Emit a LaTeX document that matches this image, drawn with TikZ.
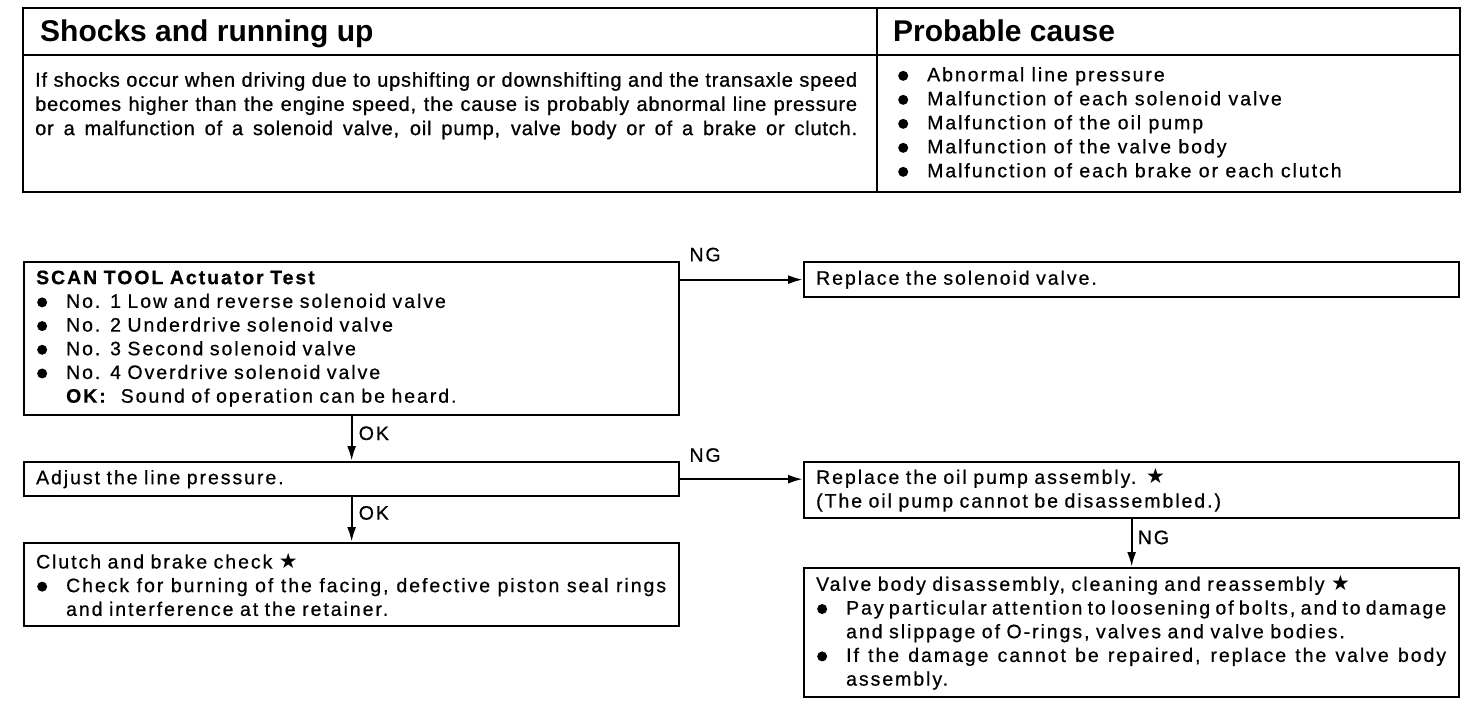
\documentclass[tikz,border=0pt]{standalone}
\usepackage{fontspec}
\setmainfont{Liberation Sans}
\newfontfamily\flowfont{Liberation Sans}[LetterSpace=10,FakeBold=0.6]
\newfontfamily\descfont{Liberation Sans}[LetterSpace=4,FakeBold=0.8]
\newfontfamily\symfont{DejaVu Sans}
\usetikzlibrary{arrows.meta}

\newcommand{\bul}{\makebox[30pt][l]{\hspace{1pt}\tikz[baseline=0pt]\fill (5pt,5.5pt) circle (5pt);}}
\newcommand{\strm}{{\symfont\fontsize{21}{21}\selectfont ★}}
\newcommand{\jline}[2]{\makebox[#1][s]{\spaceskip=0.3em plus 1fil minus 0.12em\relax #2}}

\tikzset{
  tbl/.style={line width=2.8pt},
  box/.style={draw, line width=2.3pt, anchor=north west, minimum width=655pt,
    text width=631pt, inner xsep=12pt, inner ysep=0pt, align=left,
    font=\flowfont\fontsize{19.5}{23.7}\selectfont},
  lbl/.style={font=\flowfont\fontsize{19.5}{19.5}\selectfont, inner sep=2pt},
  conn/.style={line width=2.3pt, -{Latex[length=15pt,width=9pt]}},
}

\begin{document}
\begin{tikzpicture}[x=1pt,y=-1pt]
\useasboundingbox (0,0) rectangle (1472,704);

% ===== Table at the top =====
\draw[tbl] (23,8) rectangle (1460,192);
\draw[tbl] (23,55) -- (1460,55);
\draw[tbl] (877,8) -- (877,192);

\node[anchor=base west, inner sep=0pt, font=\fontsize{30}{30}\selectfont\bfseries] (ttlL) at (40,41) {Shocks and running up};
\node[anchor=base west, inner sep=0pt, font=\fontsize{30}{30}\selectfont\bfseries] (ttlR) at (893,41) {Probable cause};

\node[anchor=north west, inner sep=0pt, align=left, font=\descfont\fontsize{20}{24.2}\selectfont] (desc) at (35,72) {%
\jline{822pt}{If shocks occur when driving due to upshifting or downshifting and the transaxle speed}\\
\jline{822pt}{becomes higher than the engine speed, the cause is probably abnormal line pressure}\\
\jline{822pt}{or a malfunction of a solenoid valve, oil pump, valve body or of a brake or clutch.}};

\node[anchor=north west, inner sep=0pt, align=left, font=\flowfont\fontsize{19.5}{24}\selectfont] (cause) at (897,67) {%
\bul Abnormal line pressure\\
\bul Malfunction of each solenoid valve\\
\bul Malfunction of the oil pump\\
\bul Malfunction of the valve body\\
\bul Malfunction of each brake or each clutch};

% ===== Flow boxes =====
\node[box, minimum height=153pt] (scan) at (23,261) {%
\textbf{SCAN TOOL Actuator Test}\\
\bul No. 1 Low and reverse solenoid valve\\
\bul No. 2 Underdrive solenoid valve\\
\bul No. 3 Second solenoid valve\\
\bul No. 4 Overdrive solenoid valve\\
\hspace*{30pt}\textbf{OK:}\ \ Sound of operation can be heard.};

\node[box, minimum height=35pt] (solv) at (803,261) {Replace the solenoid valve.};

\node[box, minimum height=34pt] (adj) at (23,461) {Adjust the line pressure.};

\node[box, minimum height=56pt] (pump) at (803,461) {%
Replace the oil pump assembly. \strm\\
(The oil pump cannot be disassembled.)};

\node[box, minimum height=83pt] (clb) at (23,542) {%
Clutch and brake check \strm\\
\bul \jline{600pt}{Check for burning of the facing, defective piston seal rings}\\
\hspace*{30pt}and interference at the retainer.};

\node[box, minimum height=129pt] (vb) at (803,567) {%
Valve body disassembly, cleaning and reassembly \strm\\
\bul \jline{600pt}{Pay particular attention to loosening of bolts, and to damage}\\
\hspace*{30pt}and slippage of O-rings, valves and valve bodies.\\
\bul \jline{600pt}{If the damage cannot be repaired, replace the valve body}\\
\hspace*{30pt}assembly.};

% ===== Connectors =====
\draw[conn] (solv.west -| scan.east) -- node[lbl, pos=0, anchor=south west, xshift=6pt, yshift=15pt] {NG} (solv.west);
\draw[conn] (adj.east) -- node[lbl, pos=0, anchor=south west, xshift=6pt, yshift=14pt] {NG} (pump.west |- adj.east);
\draw[conn] (scan.south) -- node[lbl, pos=0.38, anchor=west, xshift=4pt] {OK} (adj.north);
\draw[conn] (adj.south) -- node[lbl, pos=0.35, anchor=west, xshift=4pt] {OK} (clb.north);
\draw[conn] (pump.south) -- node[lbl, pos=0.38, anchor=west, xshift=3pt] {NG} (vb.north);

\end{tikzpicture}
\end{document}
